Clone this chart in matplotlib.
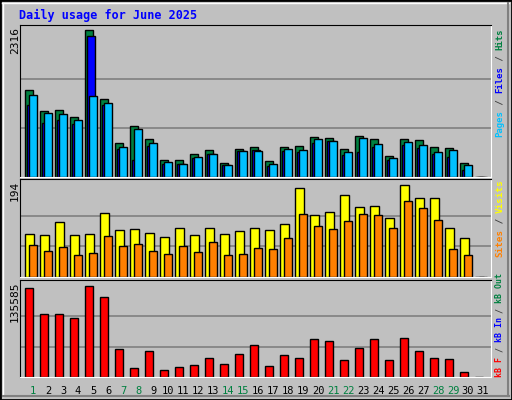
import matplotlib
matplotlib.use("Agg")
import matplotlib.pyplot as plt
import numpy as np
from matplotlib.patches import Rectangle

DAYS = np.arange(1, 32)
DAY_LABELS = [str(d) for d in DAYS]
WEEKENDS = [1, 7, 8, 14, 15, 21, 22, 28, 29]

# values per day (day 31 has no data)
HITS = [1369, 1037, 1053, 953, 2316, 1227, 532, 800, 595, 263, 263, 358, 421, 216, 437,
        468, 247, 468, 484, 626, 611, 437, 642, 595, 326, 595, 579, 468, 453, 216, 0]
FILES = [1132, 848, 900, 832, 2221, 1132, 437, 263, 484, 200, 200, 295, 358, 184, 405,
         421, 168, 405, 390, 532, 563, 342, 390, 468, 263, 500, 453, 358, 311, 105, 0]
PAGES = [1290, 1005, 990, 895, 1274, 1163, 468, 753, 532, 232, 200, 311, 358, 184, 405,
         405, 200, 437, 421, 595, 563, 390, 611, 516, 295, 547, 500, 390, 421, 184, 0]
VISITS = [91, 89, 116, 89, 91, 135, 99, 101, 93, 84, 103, 89, 103, 91, 97,
          103, 99, 112, 188, 131, 137, 173, 148, 150, 124, 194, 167, 167, 103, 82, 0]
SITES = [67, 55, 63, 46, 51, 86, 65, 70, 55, 49, 65, 53, 74, 46, 49,
         61, 59, 82, 133, 108, 101, 118, 133, 131, 103, 160, 146, 120, 59, 46, 0]
KBYTES = [132606, 94012, 94012, 88074, 135585, 119257, 42058, 13854, 39089, 10886, 15339,
          18308, 28698, 19792, 34636, 47996, 16823, 33152, 28698, 56902, 53933, 25730,
          43542, 56902, 25730, 58386, 39089, 28698, 27214, 7917, 0]

BG = "#C0C0C0"
MONO = "DejaVu Sans Mono"
W, H = 512, 400

fig = plt.figure(figsize=(5.12, 4.0), dpi=100, facecolor=BG)


def fx(px):
    return px / W


def fy(py):
    return 1 - py / H


# outer 3D frame
fig.patches.append(Rectangle((0, 0), 1, 1, transform=fig.transFigure, fill=False,
                             edgecolor="black", lw=2))
fig.lines.append(plt.Line2D([fx(2), fx(509)], [fy(3), fy(3)], transform=fig.transFigure, color="white", lw=1))
fig.lines.append(plt.Line2D([fx(3), fx(3)], [fy(3), fy(396)], transform=fig.transFigure, color="white", lw=1))
fig.lines.append(plt.Line2D([fx(3), fx(509)], [fy(396), fy(396)], transform=fig.transFigure, color="#808080", lw=1.5))
fig.lines.append(plt.Line2D([fx(508), fx(508)], [fy(3), fy(396)], transform=fig.transFigure, color="#808080", lw=1.5))

fig.text(fx(19), fy(15), "Daily usage for June 2025", color="#0000FF", fontfamily=MONO,
         fontweight="bold", fontsize=8.5, va="center", ha="left")

XL = (0.13, 31.53)


def panel(top, bot, vmax, maxpx):
    ax = fig.add_axes([fx(20), fy(bot), fx(491) - fx(20), fy(top) - fy(bot)])
    ax.set_facecolor(BG)
    ax.set_xlim(*XL)
    ax.set_ylim(0, vmax * (bot - top) / maxpx)
    for v in (vmax / 3, 2 * vmax / 3):
        ax.axhline(v, color="#808080", lw=1.2, zorder=0)
    ax.set_xticks([])
    ax.set_yticks([])
    for s in ax.spines.values():
        s.set_color("black")
    ax.spines["right"].set_color("white")
    ax.spines["bottom"].set_color("white")
    fig.text(fx(15), fy(top + 2), str(vmax), rotation=90, fontfamily=MONO, fontsize=8,
             ha="center", va="top")
    return ax


def side_label(top, cw, parts):
    # parts listed from bottom to top (reading direction); cw = char advance in px
    fs = cw / 0.602 * 0.72
    n = sum(len(t) for t, _ in parts)
    y = top + n * cw
    for t, c in parts:
        fig.text(fx(500), fy(y), t, rotation=90, color=c, fontfamily=MONO, fontsize=fs,
                 fontweight="bold", ha="center", va="bottom", rotation_mode="default")
        y -= len(t) * cw


kw = dict(edgecolor="black", lw=1, align="edge")

ax1 = panel(25, 177, 2316, 147)
ax1.bar(DAYS - 0.53, HITS, 0.53, color="#008040", **kw)
ax1.bar(DAYS - 0.40, FILES, 0.53, color="#0000FF", **kw)
ax1.bar(DAYS - 0.25, PAGES, 0.50, color="#00C0FF", **kw)
side_label(28, 5.45, [("Pages", "#00C0FF"), (" / ", "#404040"), ("Files", "#0000FF"),
                      (" / ", "#404040"), ("Hits", "#008040")])

ax2 = panel(179, 277, 194, 92)
ax2.bar(DAYS - 0.53, VISITS, 0.58, color="#FFFF00", **kw)
ax2.bar(DAYS - 0.25, SITES, 0.50, color="#FF8000", **kw)
side_label(179, 5.6, [("Sites", "#FF8000"), (" / ", "#404040"), ("Visits", "#FFFF00")])

ax3 = panel(280, 377, 135585, 91.5)
ax3.bar(DAYS - 0.53, KBYTES, 0.53, color="#FF0000", **kw)
side_label(273, 4.95, [("kB F", "#FF0000"), (" / ", "#404040"), ("kB In", "#0000FF"),
                       (" / ", "#404040"), ("kB Out", "#008040")])

for d, lab in zip(DAYS, DAY_LABELS):
    ax3.text(d, -0.14, lab, transform=ax3.get_xaxis_transform(), ha="center", va="center",
             fontfamily=MONO, fontsize=7.5,
             color="#008040" if d in WEEKENDS else "black")

fig.savefig("out.png", dpi=100, facecolor=BG)
